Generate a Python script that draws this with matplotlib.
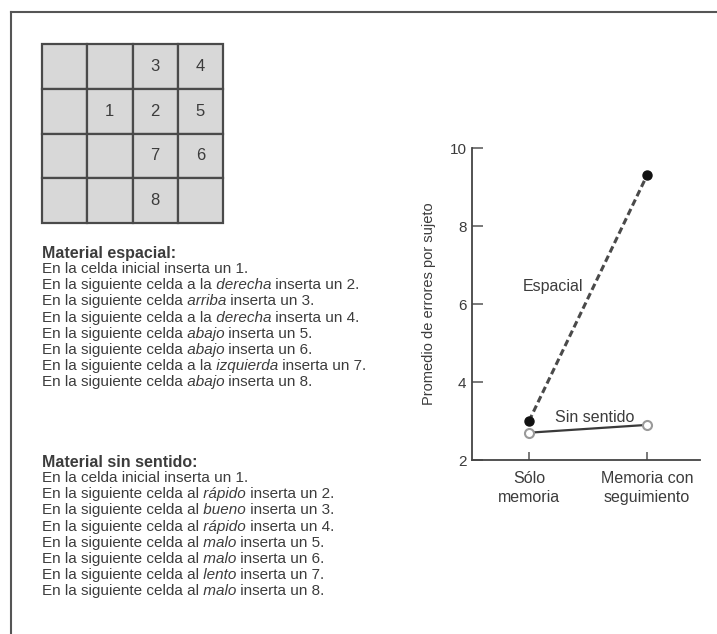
import matplotlib
matplotlib.use("Agg")
import matplotlib.pyplot as plt
from matplotlib.patches import Rectangle
from matplotlib.lines import Line2D

plt.rcParams["font.family"] = ["Liberation Sans", "DejaVu Sans"]

# ---- data ----
conditions = ["Sólo\nmemoria", "Memoria con\nseguimiento"]
espacial = [3.0, 9.3]
sin_sentido = [2.7, 2.9]
y_ticks = [2, 4, 6, 8, 10]

grid_numbers = [1, 2, 3, 4, 5, 6, 7, 8]
grid_rows = [1, 1, 0, 0, 1, 2, 2, 3]
grid_cols = [1, 2, 2, 3, 3, 3, 2, 2]

# each instruction: (text before, italic word, text after)
titulo_espacial = "Material espacial:"
instr_espacial = [
    ("En la celda inicial inserta un 1.", "", ""),
    ("En la siguiente celda a la", " derecha", " inserta un 2."),
    ("En la siguiente celda", " arriba", " inserta un 3."),
    ("En la siguiente celda a la", " derecha", " inserta un 4."),
    ("En la siguiente celda", " abajo", " inserta un 5."),
    ("En la siguiente celda", " abajo", " inserta un 6."),
    ("En la siguiente celda a la", " izquierda", " inserta un 7."),
    ("En la siguiente celda", " abajo", " inserta un 8."),
]
titulo_sin_sentido = "Material sin sentido:"
instr_sin_sentido = [
    ("En la celda inicial inserta un 1.", "", ""),
    ("En la siguiente celda al", " rápido", " inserta un 2."),
    ("En la siguiente celda al", " bueno", " inserta un 3."),
    ("En la siguiente celda al", " rápido", " inserta un 4."),
    ("En la siguiente celda al", " malo", " inserta un 5."),
    ("En la siguiente celda al", " malo", " inserta un 6."),
    ("En la siguiente celda al", " lento", " inserta un 7."),
    ("En la siguiente celda al", " malo", " inserta un 8."),
]

TXT = "#3c3c3c"
W, H = 717, 634


def fx(x):
    return x / W


def fy(y):
    return 1 - y / H


fig = plt.figure(figsize=(W / 100, H / 100), dpi=100)
fig.patch.set_facecolor("white")
renderer = fig.canvas.get_renderer()
to_fig = fig.transFigure.inverted()

# page frame (top and left rules)
fig.add_artist(Line2D([fx(11), 1.0], [fy(12), fy(12)], color="#555555", lw=1.5,
                      transform=fig.transFigure))
fig.add_artist(Line2D([fx(11), fx(11)], [fy(12), 0.0], color="#555555", lw=1.5,
                      transform=fig.transFigure))

# ---- 4x4 grid ----
gax = fig.add_axes([fx(42), fy(223), fx(223) - fx(42), fy(44) - fy(223)])
gax.set_xlim(0, 4)
gax.set_ylim(4, 0)
gax.axis("off")
for r in range(4):
    for c in range(4):
        gax.add_patch(Rectangle((c, r), 1, 1, facecolor="#d8d8d8",
                                edgecolor="#4a4a4a", lw=1.6, clip_on=False))
for n, r, c in zip(grid_numbers, grid_rows, grid_cols):
    gax.text(c + 0.5, r + 0.5, str(n), ha="center", va="center",
             fontsize=12, color=TXT)


# ---- instruction texts ----
def mixed_line(x, y, parts, size=11):
    """Draw a line made of an upright / italic / upright sequence."""
    styles = ["normal", "italic", "normal"]
    for part, style in zip(parts, styles):
        if not part:
            continue
        t = fig.text(x, y, part, fontsize=size, fontstyle=style, color=TXT,
                     va="baseline", ha="left")
        ext = t.get_window_extent(renderer=renderer)
        x = to_fig.transform((ext.x1, ext.y0))[0]


def block(y_title, title, lines, step=16.2):
    fig.text(fx(42), fy(y_title + 4), title, fontsize=11.5, fontweight="bold",
             color=TXT, va="baseline", ha="left")
    for i, parts in enumerate(lines):
        mixed_line(fx(42), fy(y_title + 19 + i * step), parts)


block(254, titulo_espacial, instr_espacial)
block(463, titulo_sin_sentido, instr_sin_sentido)

# ---- line chart ----
ax = fig.add_axes([fx(472), fy(460), fx(700) - fx(472), fy(148) - fy(460)])
ax.set_facecolor("none")
xpos = [0, 1]
ax.set_xlim(-0.483, 1.449)
ax.set_ylim(2, 10)

ax.plot(xpos, espacial, linestyle=(0, (2.2, 1.2)), color="#4a4a4a", lw=2.2,
        marker="o", markersize=6.5, markerfacecolor="#111111",
        markeredgecolor="#111111", zorder=3)
ax.plot(xpos, sin_sentido, linestyle="-", color="#3a3a3a", lw=1.6,
        marker="o", markersize=6.5, markerfacecolor="white",
        markeredgecolor="#9a9a9a", markeredgewidth=1.5, zorder=3)

ax.text(0.20, 6.44, "Espacial", ha="center", va="center", fontsize=11.5,
        color=TXT)
ax.text(0.56, 3.1, "Sin sentido", ha="center", va="center", fontsize=11.5,
        color=TXT)

for side in ("top", "right"):
    ax.spines[side].set_visible(False)
for side in ("left", "bottom"):
    ax.spines[side].set_color("#444444")
    ax.spines[side].set_linewidth(1.3)

ax.set_yticks(y_ticks)
ax.set_yticklabels([str(v) for v in y_ticks])
ax.set_xticks(xpos)
ax.set_xticklabels(conditions, linespacing=1.3)
ax.tick_params(axis="y", direction="in", length=8, width=1.1, colors="#555555",
               labelcolor=TXT, labelsize=11, pad=4)
ax.tick_params(axis="x", direction="in", length=6, width=1.1, colors="#555555",
               labelcolor=TXT, labelsize=11.5, pad=8)

ax.set_ylabel("Promedio de errores por sujeto", fontsize=10.5, color=TXT)
ax.yaxis.set_label_coords((436 - 472) / 228, 0.5)

fig.savefig("out.png", dpi=100, facecolor="white")
